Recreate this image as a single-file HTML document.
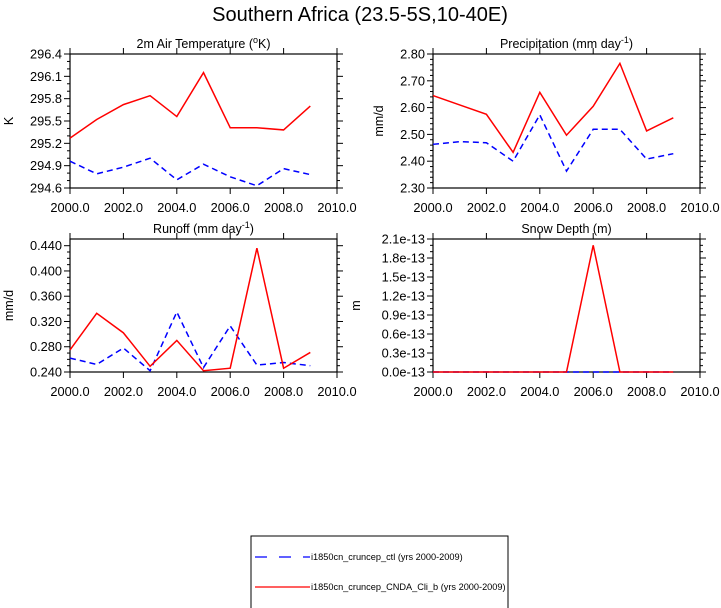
<!DOCTYPE html>
<html><head><meta charset="utf-8"><style>
body{margin:0;background:#fff}
svg{display:block;font-family:"Liberation Sans",sans-serif}
</style></head><body>
<svg id="c" width="721" height="608" viewBox="0 0 721 608">
<text x="360" y="21" font-size="20" text-anchor="middle">Southern Africa (23.5-5S,10-40E)</text>
<g>
<rect x="251" y="536" width="257" height="80" fill="none" stroke="#000" stroke-width="1"/>
<line x1="255" y1="557" x2="310" y2="557" stroke="#00f" stroke-width="1.2" stroke-dasharray="12,12"/>
<text x="311" y="560" font-size="9.2">i1850cn_cruncep_ctl (yrs 2000-2009)</text>
<line x1="255" y1="587" x2="310" y2="587" stroke="#f00" stroke-width="1.2"/>
<text x="311" y="590" font-size="9.2">i1850cn_cruncep_CNDA_Cli_b (yrs 2000-2009)</text>
</g>
</svg>
<script>
const years=[2000,2001,2002,2003,2004,2005,2006,2007,2008,2009];
const xTicks=["2000.0","2002.0","2004.0","2006.0","2008.0","2010.0"];
const tempRed=[295.27,295.52,295.72,295.84,295.56,296.15,295.41,295.41,295.38,295.70];
const tempBlue=[294.96,294.79,294.88,295.00,294.71,294.92,294.75,294.63,294.86,294.78];
const tempTicks=["294.6","294.9","295.2","295.5","295.8","296.1","296.4"];
const precRed=[2.645,2.61,2.575,2.433,2.657,2.497,2.605,2.765,2.513,2.562];
const precBlue=[2.463,2.473,2.469,2.400,2.573,2.363,2.519,2.519,2.408,2.428];
const precTicks=["2.30","2.40","2.50","2.60","2.70","2.80"];
const runRed=[0.275,0.333,0.302,0.249,0.290,0.242,0.246,0.436,0.246,0.271];
const runBlue=[0.262,0.252,0.278,0.242,0.335,0.247,0.313,0.251,0.255,0.250];
const runTicks=["0.240","0.280","0.320","0.360","0.400","0.440"];
const snowRed=[0,0,0,0,0,0,2.0e-13,0,0,0];
const snowBlue=[0,0,0,0,0,0,0,0,0,0];
const snowTicks=["0.0e-13","0.3e-13","0.6e-13","0.9e-13","1.2e-13","1.5e-13","1.8e-13","2.1e-13"];
const snowTickVals=[0,0.3e-13,0.6e-13,0.9e-13,1.2e-13,1.5e-13,1.8e-13,2.1e-13];

const svg=document.getElementById('c');
const NS='http://www.w3.org/2000/svg';
function el(tag,attrs,parent){const e=document.createElementNS(NS,tag);for(const k in attrs)e.setAttribute(k,attrs[k]);(parent||svg).appendChild(e);return e;}

function panel(o){
  const g=el('g',{});
  
  
  const {x0,x1,y0,y1,ymin,ymax}=o;
  const sx=v=>x0+(v-2000)/10*(x1-x0);
  const sy=v=>y1-(v-ymin)/(ymax-ymin)*(y1-y0);
  const t=el('text',{x:(x0+x1)/2,y:y0-6,'font-size':12.5,'text-anchor':'middle'},g);
  t.innerHTML=o.title;
  
  
  const yl=el('text',{x:0,y:0,'font-size':12.5,'text-anchor':'middle',transform:`translate(${o.ylx},${(y0+y1)/2}) rotate(-90)`},g);
  yl.textContent=o.ylabel;
  
  
  xTicks.forEach((lab,i)=>{
    const xv=sx(2000+2*i);
    el('line',{x1:xv,x2:xv,y1:y1,y2:y1+6,stroke:'#000'},g);
    el('line',{x1:xv,x2:xv,y1:y0,y2:y0-6,stroke:'#000'},g);
    const tx=el('text',{x:xv,y:y1+24,'font-size':12.8,'text-anchor':'middle'},g);
    tx.textContent=lab;
    
    
  });
  o.ticks.forEach((lab,i)=>{
    const v=o.tickVals?o.tickVals[i]:parseFloat(lab);
    const yv=sy(v);
    el('line',{x1:x0-6,x2:x0,y1:yv,y2:yv,stroke:'#000'},g);
    el('line',{x1:x1,x2:x1+6,y1:yv,y2:yv,stroke:'#000'},g);
    const ty=el('text',{x:x0-8,y:yv+4.5,'font-size':12.8,'text-anchor':'end'},g);
    ty.textContent=lab;
    
    
    if(i<o.ticks.length-1){
      const nv=o.tickVals?o.tickVals[i+1]:parseFloat(o.ticks[i+1]);
      for(let k=1;k<o.minor;k++){
        const mv=sy(v+(nv-v)*k/o.minor);
        el('line',{x1:x0-3,x2:x0,y1:mv,y2:mv,stroke:'#000'},g);
        el('line',{x1:x1,x2:x1+3,y1:mv,y2:mv,stroke:'#000'},g);
      }
    }
  });
  el('rect',{x:x0,y:y0,width:x1-x0,height:y1-y0,fill:'none',stroke:'#000','stroke-width':1.2},g);
  const mk=(arr,color,dash,nm)=>{
    const p=el('polyline',{points:arr.map((v,i)=>sx(years[i])+','+sy(v)).join(' '),fill:'none',stroke:color,'stroke-width':1.5},g);
    if(dash)p.setAttribute('stroke-dasharray',dash);
    
    
  };
  mk(o.blue,'#00f','6,4',o.name+'-ctl-line');
  mk(o.red,'#f00',null,o.name+'-exp-line');
}
panel({name:'temperature',title:'2m Air Temperature (<tspan font-size="9" dy="-5">o</tspan><tspan dy="5">K)</tspan>',ylabel:'K',ylx:13,x0:70,x1:337,y0:54,y1:188,ymin:294.6,ymax:296.4,ticks:tempTicks,minor:3,red:tempRed,blue:tempBlue});
panel({name:'precipitation',title:'Precipitation (mm day<tspan font-size="9" dy="-5">-1</tspan><tspan dy="5">)</tspan>',ylabel:'mm/d',ylx:383,x0:433,x1:700,y0:54,y1:188,ymin:2.30,ymax:2.80,ticks:precTicks,minor:5,red:precRed,blue:precBlue});
panel({name:'runoff',title:'Runoff (mm day<tspan font-size="9" dy="-5">-1</tspan><tspan dy="5">)</tspan>',ylabel:'mm/d',ylx:13,x0:70,x1:337,y0:239,y1:372,ymin:0.24,ymax:0.4506,ticks:runTicks,minor:4,red:runRed,blue:runBlue});
panel({name:'snow-depth',title:'Snow Depth (m)',ylabel:'m',ylx:360,x0:433,x1:700,y0:239,y1:372,ymin:0,ymax:2.1e-13,ticks:snowTicks,tickVals:snowTickVals,minor:3,red:snowRed,blue:snowBlue});
</script>
</body></html>
